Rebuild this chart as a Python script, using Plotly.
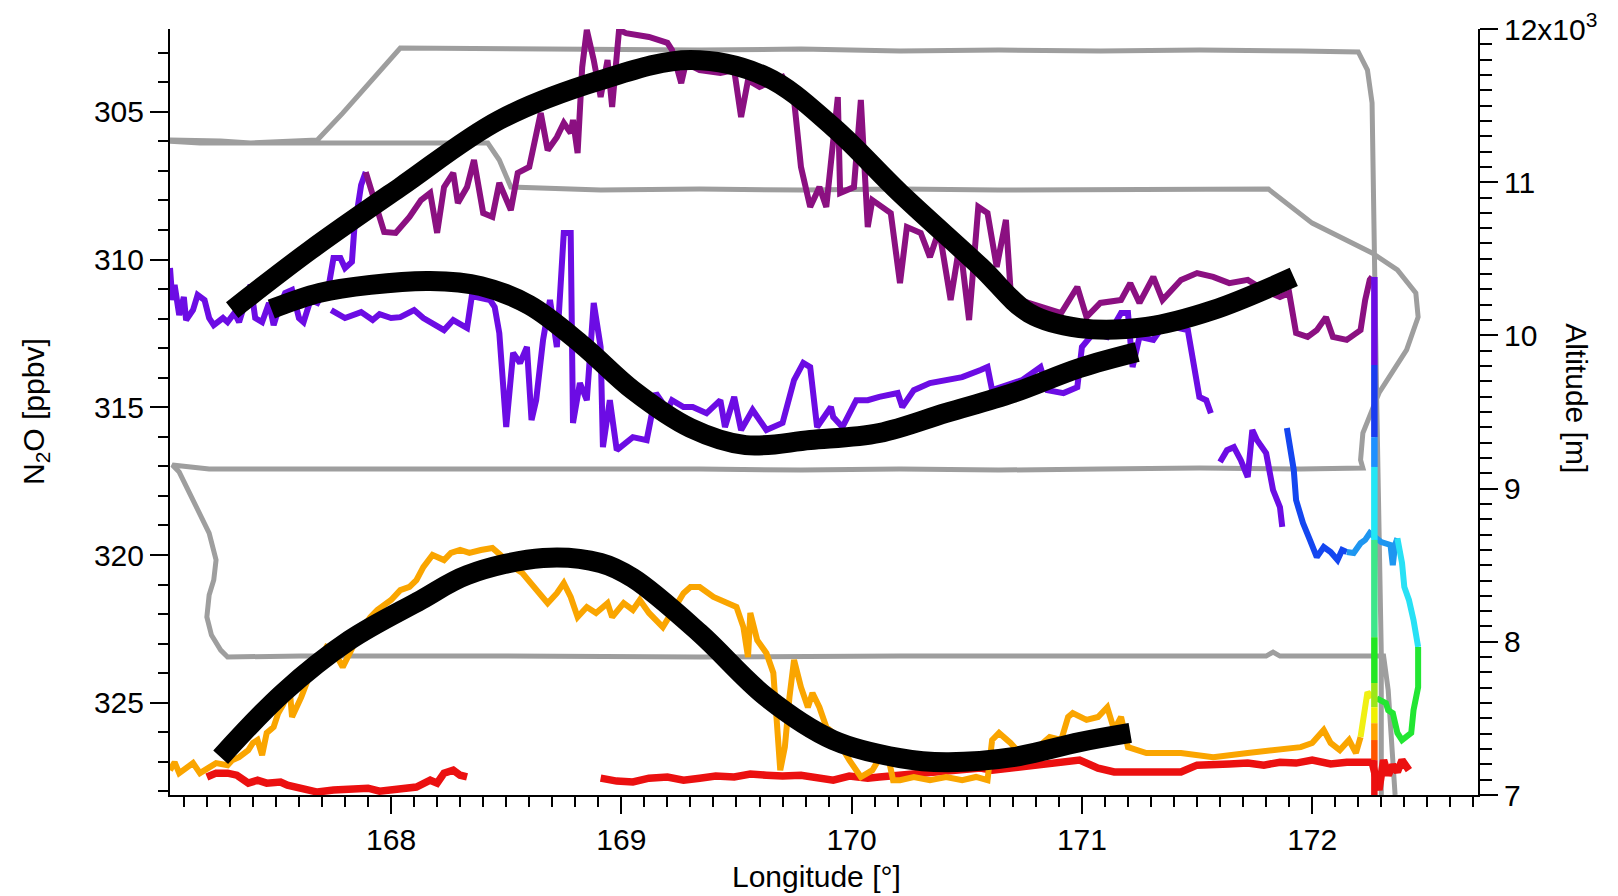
import plotly.graph_objects as go

# ---------------- data ----------------
# Altitude flight track (grey, right axis)
alt_lon = [172.30, 172.30, 172.28, 172.27, 172.26, 172.24, 172.20, 171.95, 171.51, 171.08, 170.64, 170.21,
           169.78, 169.34, 168.91, 168.47, 168.04, 167.79, 167.68, 167.39, 167.26, 167.04, 167.00, 167.17,
           167.61, 168.04, 168.42, 168.47, 168.52, 168.91, 169.34, 169.78, 170.21, 170.64, 171.08, 171.51,
           171.81, 172.00, 172.26, 172.37, 172.45, 172.46, 172.41, 172.29, 172.22, 172.21, 172.22, 171.95,
           171.51, 171.08, 170.64, 170.21, 169.78, 169.34, 168.91, 168.47, 168.04, 167.61, 167.21, 167.13,
           167.05, 167.08, 167.15, 167.21, 167.24, 167.23, 167.21, 167.20, 167.22, 167.26, 167.29, 167.61,
           168.47, 169.34, 170.21, 171.08, 171.80, 171.83, 171.86, 172.31, 172.33, 172.36, 172.37]
alt_m = [6950, 7927, 9578, 10884, 11517, 11732, 11850, 11856, 11863, 11856, 11863, 11856,
         11869, 11863, 11869, 11876, 11876, 11451, 11275, 11256, 11269, 11275, 11270, 11256,
         11256, 11262, 11256, 11145, 10968, 10949, 10955, 10949, 10955, 10949, 10949, 10955,
         10955, 10733, 10538, 10427, 10277, 10120, 9905, 9624, 9363, 9187, 9134, 9128,
         9134, 9128, 9121, 9128, 9121, 9128, 9128, 9128, 9121, 9128, 9128, 9141,
         9154, 9108, 8893, 8710, 8534, 8403, 8305, 8162, 8044, 7946, 7901, 7907,
         7907, 7901, 7907, 7907, 7907, 7933, 7907, 7907, 7685, 7000, 6900]

# N2O, highest flight level (magenta)
mag_lon = [167.89, 167.93, 167.97, 168.02, 168.05, 168.08, 168.13, 168.17, 168.20, 168.23, 168.27, 168.29,
           168.33, 168.36, 168.40, 168.44, 168.47, 168.52, 168.55, 168.60, 168.65, 168.68, 168.72, 168.75,
           168.78, 168.79, 168.81, 168.83, 168.85, 168.88, 168.91, 168.94, 168.96, 168.99, 169.02, 169.12,
           169.20, 169.22, 169.26, 169.28, 169.34, 169.43, 169.49, 169.52, 169.55, 169.60, 169.70, 169.75,
           169.78, 169.82, 169.86, 169.89, 169.94, 169.95, 170.01, 170.04, 170.07, 170.09, 170.17, 170.21,
           170.24, 170.30, 170.34, 170.38, 170.43, 170.47, 170.51, 170.55, 170.59, 170.63, 170.67, 170.69,
           170.73, 170.82, 170.91, 170.98, 171.02, 171.08, 171.17, 171.21, 171.25, 171.31, 171.35, 171.43,
           171.50, 171.57, 171.64, 171.72, 171.79, 171.86, 171.90, 171.93, 171.98, 172.02, 172.06, 172.09,
           172.15, 172.21, 172.23, 172.25, 172.26]
mag_n2o = [307.04, 307.99, 309.07, 309.10, 308.83, 308.56, 307.99, 307.75, 309.10, 307.55, 307.07, 308.09,
           307.55, 306.63, 308.43, 308.56, 307.41, 308.33, 307.07, 306.87, 305.04, 306.30, 305.86, 305.38,
           305.72, 305.28, 306.40, 303.49, 302.23, 303.25, 304.50, 303.25, 304.84, 302.23, 302.34, 302.47,
           302.67, 302.91, 304.03, 303.35, 303.59, 303.69, 303.59, 305.18, 303.93, 304.16, 303.82, 304.60,
           306.87, 308.22, 307.55, 308.22, 304.50, 307.75, 307.55, 304.60, 308.90, 307.99, 308.43, 310.80,
           308.90, 309.10, 309.92, 309.00, 311.37, 309.44, 312.05, 308.22, 308.43, 310.25, 308.66, 311.03,
           311.37, 311.61, 311.81, 310.93, 311.95, 311.47, 311.37, 310.80, 311.47, 310.59, 311.37, 310.69,
           310.46, 310.59, 310.80, 310.69, 311.03, 311.27, 311.13, 312.49, 312.62, 312.39, 311.95, 312.62,
           312.72, 312.39, 311.37, 310.69, 310.59]

# N2O, upper flight levels, first pass (violet)
vio1_lon = [167.04, 167.05, 167.06, 167.08, 167.10, 167.11, 167.14, 167.16, 167.19, 167.21, 167.23, 167.27,
            167.29, 167.32, 167.34, 167.37, 167.39, 167.41, 167.44, 167.47, 167.49, 167.51, 167.54, 167.57,
            167.60, 167.62, 167.65, 167.68, 167.71, 167.73, 167.75, 167.78, 167.80, 167.83, 167.84, 167.87,
            167.89]
vio1_n2o = [310.29, 311.37, 310.86, 311.88, 311.27, 312.05, 311.71, 311.20, 311.37, 311.98, 312.22, 311.98,
            312.12, 311.81, 312.12, 311.37, 310.86, 311.98, 312.12, 311.47, 312.22, 311.71, 311.13, 311.03,
            311.98, 312.12, 311.37, 311.47, 311.03, 310.86, 309.95, 309.95, 310.29, 310.08, 309.00, 307.48,
            307.04]

# N2O, upper flight levels, second pass (violet)
vio2_lon = [167.74, 167.80, 167.87, 167.92, 167.95, 168.00, 168.04, 168.10, 168.14, 168.18, 168.23, 168.27,
            168.33, 168.35, 168.37, 168.43, 168.45, 168.47, 168.50, 168.53, 168.56, 168.59, 168.61, 168.63,
            168.66, 168.69, 168.72, 168.75, 168.78, 168.79, 168.82, 168.85, 168.88, 168.91, 168.92, 168.95,
            168.98, 169.05, 169.11, 169.15, 169.20, 169.22, 169.27, 169.31, 169.37, 169.43, 169.45, 169.49,
            169.52, 169.57, 169.63, 169.70, 169.75, 169.79, 169.82, 169.85, 169.91, 169.92, 169.96, 170.02,
            170.07, 170.12, 170.20, 170.22, 170.27, 170.34, 170.41, 170.48, 170.56, 170.59, 170.61, 170.70,
            170.74, 170.82, 170.85, 170.92, 170.98, 171.00, 171.05, 171.11, 171.17, 171.20, 171.22, 171.25,
            171.31, 171.34, 171.40, 171.46, 171.48, 171.51, 171.54, 171.56]
vio2_n2o = [311.71, 311.98, 311.78, 312.05, 311.85, 311.98, 311.95, 311.71, 311.98, 312.15, 312.39, 312.05,
            312.32, 311.27, 311.27, 311.37, 311.61, 312.49, 315.67, 313.16, 313.50, 312.96, 315.43, 314.76,
            312.72, 311.37, 312.96, 309.10, 309.10, 315.53, 314.18, 314.76, 311.47, 312.96, 316.35, 314.76,
            316.45, 316.01, 316.11, 314.52, 315.09, 314.76, 314.99, 314.99, 315.20, 314.76, 315.67, 314.65,
            315.77, 315.09, 315.77, 315.53, 314.08, 313.50, 313.64, 315.67, 314.99, 315.33, 315.67, 314.76,
            314.76, 314.65, 314.52, 314.99, 314.42, 314.18, 314.08, 313.98, 313.74, 313.64, 314.42, 314.18,
            314.08, 313.64, 314.42, 314.52, 314.32, 312.96, 312.49, 312.62, 311.81, 311.81, 313.64, 312.62,
            312.72, 312.39, 312.29, 312.39, 313.40, 314.65, 314.76, 315.20]

# N2O, violet descent segment near the eastern end
vio3_lon = [171.60, 171.63, 171.66, 171.69, 171.72, 171.74, 171.76, 171.78, 171.80, 171.83, 171.86, 171.87]
vio3_n2o = [316.85, 316.45, 316.35, 316.79, 317.36, 315.77, 316.11, 316.38, 316.55, 317.80, 318.38, 319.05]

# N2O, blue segment
blu_lon = [171.89, 171.90, 171.92, 171.93, 171.96, 171.99, 172.02, 172.05, 172.08, 172.11, 172.13, 172.15]
blu_n2o = [315.70, 316.28, 317.12, 318.14, 318.92, 319.49, 320.07, 319.73, 319.90, 320.17, 319.83, 319.90]

# N2O, light-blue segment
lbl_lon = [172.15, 172.18, 172.21, 172.23, 172.25, 172.28, 172.30, 172.34, 172.35, 172.36, 172.37]
lbl_n2o = [319.90, 319.93, 319.60, 319.49, 319.26, 319.43, 319.56, 319.66, 320.34, 319.66, 319.43]

# N2O, cyan segment
cya_lon = [172.37, 172.39, 172.40, 172.42, 172.44, 172.46]
cya_n2o = [319.43, 320.27, 321.08, 321.52, 322.20, 323.11]

# N2O, green segment
grn_lon = [172.46, 172.46, 172.46, 172.44, 172.43, 172.39, 172.37, 172.35, 172.33, 172.32, 172.28]
grn_n2o = [323.11, 323.55, 324.47, 325.25, 326.02, 326.26, 326.02, 325.35, 325.25, 325.01, 324.85]

# N2O, yellow segment
yel_lon = [172.21, 172.22, 172.23, 172.24, 172.26]
yel_n2o = [326.16, 325.58, 324.91, 324.64, 324.81]

# N2O, lower flight level (orange)
ora_lon = [167.04, 167.06, 167.08, 167.11, 167.14, 167.17, 167.20, 167.24, 167.29, 167.31, 167.34, 167.38,
           167.40, 167.42, 167.44, 167.46, 167.49, 167.51, 167.53, 167.56, 167.57, 167.61, 167.65, 167.69,
           167.72, 167.75, 167.79, 167.81, 167.87, 167.91, 167.94, 168.00, 168.04, 168.08, 168.11, 168.14,
           168.18, 168.23, 168.26, 168.30, 168.34, 168.39, 168.44, 168.49, 168.53, 168.57, 168.62, 168.68,
           168.72, 168.75, 168.78, 168.81, 168.85, 168.89, 168.94, 168.96, 169.01, 169.05, 169.08, 169.12,
           169.18, 169.22, 169.27, 169.30, 169.34, 169.40, 169.46, 169.50, 169.53, 169.55, 169.56, 169.59,
           169.63, 169.66, 169.69, 169.71, 169.73, 169.75, 169.78, 169.81, 169.83, 169.86, 169.89, 169.92,
           169.99, 170.04, 170.09, 170.15, 170.18, 170.21, 170.27, 170.34, 170.41, 170.48, 170.54, 170.59,
           170.61, 170.64, 170.69, 170.73, 170.81, 170.86, 170.91, 170.94, 170.96, 171.02, 171.07, 171.11,
           171.14, 171.17, 171.20, 171.28, 171.43, 171.57, 171.72, 171.86, 171.95, 172.00, 172.05, 172.08,
           172.12, 172.16, 172.19, 172.21]
ora_n2o = [327.28, 327.01, 327.38, 327.21, 327.04, 327.38, 327.21, 327.04, 327.11, 326.94, 326.84, 326.60,
           326.36, 326.26, 326.77, 326.02, 325.82, 325.35, 325.08, 324.57, 325.48, 324.81, 323.99, 323.55,
           323.11, 323.22, 323.79, 323.45, 322.54, 322.10, 321.86, 321.52, 321.19, 321.08, 320.85, 320.41,
           320.00, 320.17, 319.93, 319.83, 319.93, 319.83, 319.76, 320.10, 320.41, 320.61, 321.08, 321.63,
           321.29, 320.95, 321.42, 322.10, 321.76, 321.96, 321.63, 322.10, 321.63, 321.86, 321.52, 321.96,
           322.44, 321.96, 321.29, 321.08, 321.08, 321.42, 321.63, 321.76, 322.44, 323.45, 321.96, 322.88,
           323.32, 323.99, 327.28, 326.50, 324.81, 323.55, 324.47, 325.15, 324.67, 325.15, 325.82, 326.02,
           326.94, 327.51, 327.28, 326.50, 327.62, 327.62, 327.51, 327.62, 327.51, 327.62, 327.51, 327.62,
           326.26, 326.02, 326.36, 326.70, 326.50, 326.16, 326.26, 325.48, 325.35, 325.58, 325.48, 325.15,
           325.92, 325.48, 326.50, 326.70, 326.70, 326.84, 326.70, 326.60, 326.50, 326.36, 325.92, 326.36,
           326.60, 326.26, 326.70, 326.16]

# N2O, lowest level (red), two stretches
red1_lon = [167.20, 167.24, 167.29, 167.33, 167.38, 167.42, 167.46, 167.52, 167.55, 167.61, 167.68, 167.75,
            167.82, 167.90, 167.95, 167.99, 168.04, 168.11, 168.17, 168.20, 168.23, 168.27, 168.30, 168.33]
red1_n2o = [327.51, 327.38, 327.38, 327.45, 327.72, 327.62, 327.72, 327.68, 327.79, 327.89, 328.02, 327.95,
            327.95, 327.89, 327.99, 327.95, 327.95, 327.85, 327.62, 327.72, 327.38, 327.28, 327.45, 327.51]
red2_lon = [168.91, 168.98, 169.05, 169.12, 169.20, 169.27, 169.34, 169.41, 169.49, 169.56, 169.63, 169.70,
            169.78, 169.85, 169.92, 169.99, 170.07, 170.12, 170.21, 170.27, 170.34, 170.41, 170.48, 170.56,
            170.61, 170.70, 170.78, 170.85, 170.92, 170.99, 171.07, 171.14, 171.21, 171.28, 171.35, 171.43,
            171.50, 171.57, 171.64, 171.72, 171.79, 171.86, 171.93, 172.00, 172.08, 172.15, 172.21, 172.26,
            172.29, 172.31, 172.33, 172.35, 172.37, 172.39, 172.42]
red2_n2o = [327.55, 327.65, 327.68, 327.55, 327.51, 327.62, 327.55, 327.48, 327.51, 327.41, 327.45, 327.48,
            327.45, 327.51, 327.62, 327.48, 327.55, 327.51, 327.45, 327.38, 327.34, 327.28, 327.24, 327.21,
            327.28, 327.21, 327.14, 327.11, 327.01, 326.94, 327.21, 327.34, 327.34, 327.34, 327.38, 327.34,
            327.11, 327.11, 327.07, 327.04, 327.11, 327.01, 327.04, 326.94, 327.07, 327.01, 327.04, 327.01,
            327.95, 326.94, 327.45, 327.11, 327.34, 326.94, 327.28]

# Vertical N2O profile (ascent) at fixed longitude, split where the colour changes
prof_lon = 172.27
prof_n2o = [310.59, 313.57, 316.01, 317.02, 319.49, 322.78, 324.33, 325.15, 325.69, 326.26, 326.94, 328.19]

# Schematic black curves
c1_lon = [167.31, 167.65, 168.04, 168.47, 168.91, 169.30, 169.63, 169.92, 170.21, 170.56, 170.77, 170.99,
          171.28, 171.57, 171.92]
c1_n2o = [311.71, 309.68, 307.55, 305.28, 303.93, 303.25, 303.82, 305.52, 307.75, 310.25, 311.81, 312.32,
          312.28, 311.71, 310.59]
c2_lon = [167.48, 167.69, 167.91, 168.17, 168.39, 168.60, 168.83, 169.05, 169.30, 169.54, 169.82, 170.12,
          170.41, 170.70, 170.99, 171.24]
c2_n2o = [311.68, 311.13, 310.86, 310.73, 310.90, 311.54, 312.89, 314.42, 315.70, 316.28, 316.11, 315.87,
          315.19, 314.52, 313.67, 313.13]
c3_lon = [167.26, 167.53, 167.82, 168.13, 168.33, 168.66, 168.91, 169.05, 169.34, 169.63, 169.92, 170.21,
          170.41, 170.70, 170.99, 171.21]
c3_n2o = [326.84, 324.67, 322.88, 321.52, 320.68, 320.10, 320.27, 320.78, 322.64, 324.81, 326.26, 326.87,
          327.01, 326.84, 326.33, 326.02]

# Axis ticks
alt_tick_vals = [7000, 8000, 9000, 10000, 11000, 12000]
alt_tick_text = ["7", "8", "9", "10", "11", "12x10<sup>3</sup>"]

# ---------------- styles ----------------
FONT = "Liberation Sans, Arial, sans-serif"
col = {
    "grey": "#9E9E9E", "mag": "#8B1081", "vio": "#6C0CE4", "blu": "#1446F0", "lbl": "#1E96F0",
    "cya": "#28E1F5", "grn": "#22E632", "yel": "#F0F014", "ora": "#FAA500", "red": "#EB1010",
}
prof_colors = ["#6C0CE4", "#1A3CF0", "#1E90FF", "#22E6F5", "#3DE68A", "#22E622", "#9BE619",
               "#F0F000", "#FFA500", "#FF5500", "#EB1010"]

fig = go.Figure()

# altitude (base y axis, drawn underneath)
fig.add_trace(go.Scatter(x=alt_lon, y=alt_m, mode="lines", yaxis="y",
                         line=dict(color=col["grey"], width=5)))

def n2o_line(x, y, c, w=6):
    fig.add_trace(go.Scatter(x=x, y=y, mode="lines", yaxis="y2",
                             line=dict(color=c, width=w)))

n2o_line(red1_lon, red1_n2o, col["red"], 7.5)
n2o_line(red2_lon, red2_n2o, col["red"], 7.5)
n2o_line(ora_lon, ora_n2o, col["ora"])
n2o_line(vio1_lon, vio1_n2o, col["vio"])
n2o_line(vio2_lon, vio2_n2o, col["vio"])
n2o_line(mag_lon, mag_n2o, col["mag"])
n2o_line(vio3_lon, vio3_n2o, col["vio"])
n2o_line(blu_lon, blu_n2o, col["blu"])
n2o_line(lbl_lon, lbl_n2o, col["lbl"])
n2o_line(cya_lon, cya_n2o, col["cya"])
n2o_line(grn_lon, grn_n2o, col["grn"])
n2o_line(yel_lon, yel_n2o, col["yel"])
for i in range(len(prof_n2o) - 1):
    n2o_line([prof_lon, prof_lon], [prof_n2o[i], prof_n2o[i + 1]], prof_colors[i], 6.5)

for cx, cy in [(c1_lon, c1_n2o), (c2_lon, c2_n2o), (c3_lon, c3_n2o)]:
    fig.add_trace(go.Scatter(x=cx, y=cy, mode="lines", yaxis="y2",
                             line=dict(color="black", width=20, shape="spline", smoothing=1.0)))

tickfont = dict(family=FONT, size=30, color="black")
common = dict(showline=True, linecolor="black", linewidth=2, ticks="outside", tickwidth=2,
              tickcolor="black", showgrid=False, zeroline=False, tickfont=tickfont, automargin=False)

fig.update_layout(
    width=1618, height=896, autosize=False,
    margin=dict(l=170, r=140, t=29, b=101, pad=0),
    paper_bgcolor="white", plot_bgcolor="white", showlegend=False, hovermode=False,
    xaxis=dict(range=[167.04, 172.72], tick0=168, dtick=1, ticklen=17,
               minor=dict(dtick=0.1, ticklen=10, tickwidth=2, tickcolor="black", ticks="outside"),
               **common),
    yaxis=dict(side="right", range=[7000, 12000], tickmode="array", tickvals=alt_tick_vals,
               ticktext=alt_tick_text, ticklen=18,
               minor=dict(tickmode="linear", tick0=7000, dtick=100, ticklen=12, tickwidth=2,
                          tickcolor="black", ticks="outside"),
               **common),
    yaxis2=dict(overlaying="y", side="left", anchor="x", range=[328.12, 302.2], tick0=305, dtick=5,
                ticklen=18,
                minor=dict(dtick=1, ticklen=10, tickwidth=2, tickcolor="black", ticks="outside"),
                **common),
    annotations=[
        dict(text="N<sub>2</sub>O [ppbv]", xref="paper", yref="paper", x=-0.1032, y=0.5,
             textangle=-90, showarrow=False, font=dict(family=FONT, size=30, color="black"),
             xanchor="center", yanchor="middle"),
        dict(text="Altitude [m]", xref="paper", yref="paper", x=1.0757, y=0.518,
             textangle=90, showarrow=False, font=dict(family=FONT, size=30, color="black"),
             xanchor="center", yanchor="middle"),
        dict(text="Longitude [°]", xref="paper", yref="paper", x=0.494, y=-0.107,
             showarrow=False, font=dict(family=FONT, size=30, color="black"),
             xanchor="center", yanchor="middle"),
    ],
)

fig.write_html("out.html", config={"displayModeBar": False},
               post_script="document.body.style.margin='0';document.body.style.overflow='hidden';")
